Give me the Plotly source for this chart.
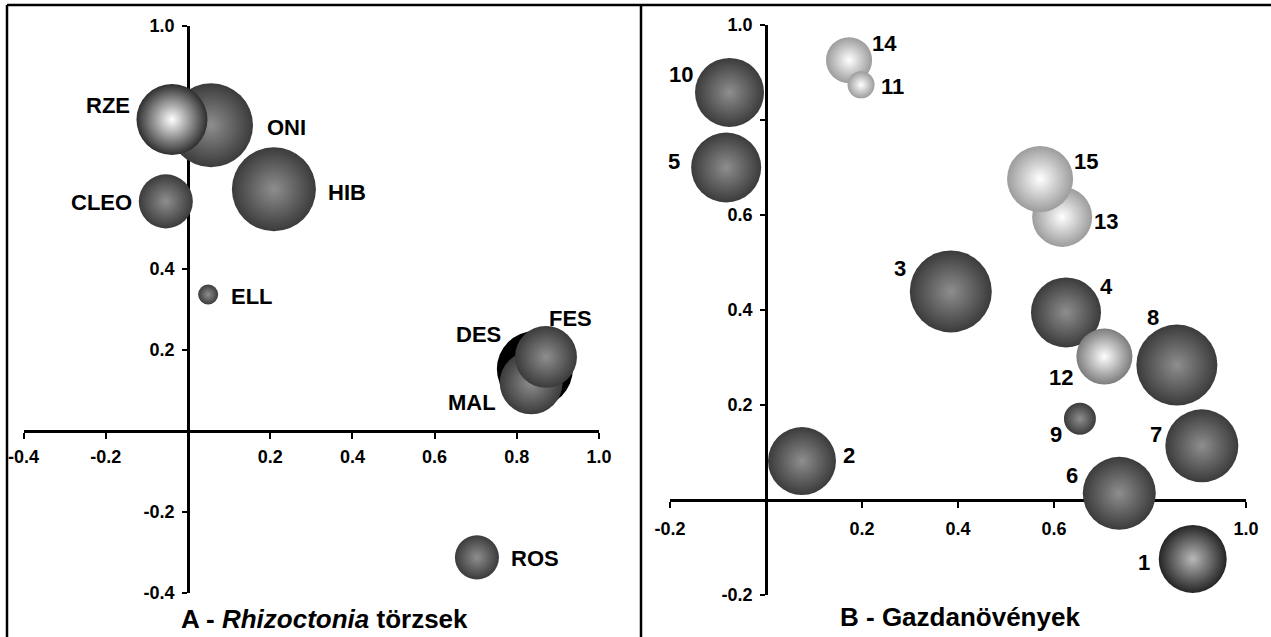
import plotly.graph_objects as go

# ---------------- data ----------------
# Panel A: Rhizoctonia strains (drawing order = stacking order)
strain_names = ["DES", "MAL", "FES", "ONI", "RZE", "HIB", "CLEO", "ELL", "ROS"]
strain_x = [0.844, 0.835, 0.871, 0.056, -0.039, 0.209, -0.054, 0.049, 0.703]
strain_y = [0.153, 0.119, 0.183, 0.755, 0.769, 0.597, 0.567, 0.337, -0.312]
strain_size = [57.8, 39.7, 38.4, 70.6, 50.4, 70.6, 29.2, 4.0, 19.4]

# Panel B: host plants (drawing order = stacking order)
host_names = ["1", "2", "3", "4", "12", "5", "6", "7", "8", "9", "10", "14", "11", "13", "15"]
host_x = [0.889, 0.075, 0.385, 0.625, 0.705, -0.083, 0.736, 0.908, 0.856, 0.654, -0.076, 0.173, 0.198, 0.617, 0.571]
host_y = [-0.124, 0.082, 0.439, 0.395, 0.302, 0.700, 0.014, 0.114, 0.284, 0.171, 0.858, 0.926, 0.874, 0.596, 0.676]
host_size = [46.2, 46.2, 67.2, 49.0, 31.4, 49.0, 53.3, 53.3, 65.6, 10.2, 47.6, 21.2, 7.3, 36.0, 43.6]

# axis ticks
a_xticks = [-0.4, -0.2, 0.2, 0.4, 0.6, 0.8, 1.0]
a_xticktext = ["-0.4", "-0.2", "0.2", "0.4", "0.6", "0.8", "1.0"]
a_yticks = [-0.4, -0.2, 0.2, 0.4, 0.6, 0.8, 1.0]
a_yticktext = ["-0.4", "-0.2", "0.2", "0.4", "", "", "1.0"]
b_xticks = [-0.2, 0.2, 0.4, 0.6, 0.8, 1.0]
b_xticktext = ["-0.2", "0.2", "0.4", "0.6", "", "1.0"]
b_yticks = [-0.2, 0.2, 0.4, 0.6, 0.8, 1.0]
b_yticktext = ["-0.2", "0.2", "0.4", "0.6", "", "1.0"]

title_a = "A - <i>Rhizoctonia</i> törzsek"
title_b = "B - Gazdanövények"

# ---------------- styles ----------------
W, H = 1271, 637
FONT = "Liberation Sans, Arial, sans-serif"

DARK = ("#3b3b3b", "#8e8e8e")      # (edge, centre)
style_a = {"DES": ("#000000", "#000000"), "RZE": ("#2e2e2e", "#ffffff")}
style_b = {"1": ("#252525", "#b8b8b8"), "12": ("#7c7c7c", "#ffffff"),
           "14": ("#9c9c9c", "#ffffff"), "11": ("#9c9c9c", "#ffffff"),
           "13": ("#9c9c9c", "#ffffff"), "15": ("#9c9c9c", "#ffffff")}

# label offsets in screen pixels (dx right, dy down) relative to bubble centre
off_a = {"RZE": (-64, -14), "ONI": (75, 2), "HIB": (73, 3), "CLEO": (-64.5, 1),
         "ELL": (43.5, 2), "DES": (-56, -35), "FES": (24.5, -38), "MAL": (-59, 20),
         "ROS": (58.5, 1)}
off_b = {"1": (-48.5, 4), "2": (47, -6), "3": (-51, -22.5), "4": (40.5, -25.5),
         "12": (-43, 20.5), "5": (-52, -6.5), "6": (-47, -17.5), "7": (-45.5, -11),
         "8": (-24, -48), "9": (-24, 16), "10": (-49, -17.5), "14": (35.5, -17),
         "11": (31, 2), "13": (43.5, 5), "15": (46, -17)}

# pixel frames of the two plot areas (left, right, top, bottom)
frame_a = (23.6, 599.0, 26.0, 593.0)
frame_b = (670.0, 1246.0, 25.0, 595.0)
rng_a = ([-0.4, 1.0], [-0.4, 1.0])
rng_b = ([-0.2, 1.0], [-0.2, 1.0])

SIZEREF = 0.02  # area mode: diameter = 10*sqrt(size)


def domains(frame):
    l, r, t, b = frame
    return [l / W, r / W], [1 - b / H, 1 - t / H]


def zero_pos(dom, rng):
    return dom[0] + (0 - rng[0]) / (rng[1] - rng[0]) * (dom[1] - dom[0])


fig = go.Figure()


def add_panel(names, xs, ys, sizes, styles, offs, xa, ya):
    edge = [styles.get(n, DARK)[0] for n in names]
    centre = [styles.get(n, DARK)[1] for n in names]
    fig.add_trace(go.Scatter(
        x=xs, y=ys, mode="markers", xaxis=xa, yaxis=ya,
        cliponaxis=False, hoverinfo="text", text=names,
        marker=dict(size=sizes, sizemode="area", sizeref=SIZEREF,
                    color=edge, opacity=1,
                    gradient=dict(type="radial", color=centre),
                    line=dict(width=0)),
    ))
    for n, x, y in zip(names, xs, ys):
        dx, dy = offs[n]
        fig.add_annotation(x=x, y=y, xref=xa, yref=ya, text="<b>%s</b>" % n,
                           showarrow=False, xshift=dx, yshift=-dy,
                           xanchor="center", yanchor="middle",
                           font=dict(family=FONT, size=22, color="black"))


add_panel(strain_names, strain_x, strain_y, strain_size, style_a, off_a, "x", "y")
add_panel(host_names, host_x, host_y, host_size, style_b, off_b, "x2", "y2")

xd_a, yd_a = domains(frame_a)
xd_b, yd_b = domains(frame_b)

tickfont = dict(family=FONT, size=18, color="black", weight="bold")
common = dict(showgrid=False, zeroline=False, showline=True, linecolor="black",
              linewidth=2.5, ticks="outside", ticklen=6, tickwidth=2,
              tickcolor="black", tickfont=tickfont, tickmode="array",
              layer="below traces", anchor="free", fixedrange=True,
              automargin=False)

fig.update_layout(
    width=W, height=H, margin=dict(l=0, r=0, t=0, b=0, autoexpand=False),
    paper_bgcolor="white", plot_bgcolor="white", showlegend=False,
    xaxis=dict(common, domain=xd_a, range=rng_a[0], tickvals=a_xticks,
               ticktext=a_xticktext, position=zero_pos(yd_a, rng_a[1]),
               ticklabelstandoff=3),
    yaxis=dict(common, domain=yd_a, range=rng_a[1], tickvals=a_yticks,
               ticktext=a_yticktext, position=zero_pos(xd_a, rng_a[0]),
               ticklen=5, ticklabelstandoff=4),
    xaxis2=dict(common, domain=xd_b, range=rng_b[0], tickvals=b_xticks,
                ticktext=b_xticktext, position=zero_pos(yd_b, rng_b[1]),
                ticklabelstandoff=6),
    yaxis2=dict(common, domain=yd_b, range=rng_b[1], tickvals=b_yticks,
                ticktext=b_yticktext, position=zero_pos(xd_b, rng_b[0]),
                ticklen=5, ticklabelstandoff=4),
)

# panel titles
fig.add_annotation(x=324 / W, y=1 - 619 / H, xref="paper", yref="paper",
                   text="<b>%s</b>" % title_a, showarrow=False,
                   xanchor="center", yanchor="middle",
                   font=dict(family=FONT, size=26, color="black"))
fig.add_annotation(x=959.5 / W, y=1 - 617 / H, xref="paper", yref="paper",
                   text="<b>%s</b>" % title_b, showarrow=False,
                   xanchor="center", yanchor="middle",
                   font=dict(family=FONT, size=26, color="black"))

# table borders
border = dict(color="black", width=2.5)
fig.add_shape(type="line", xref="paper", yref="paper", x0=7 / W, x1=1, y0=1 - 5 / H, y1=1 - 5 / H, line=border)
fig.add_shape(type="line", xref="paper", yref="paper", x0=7 / W, x1=7 / W, y0=0, y1=1 - 5 / H, line=border)
fig.add_shape(type="line", xref="paper", yref="paper", x0=641 / W, x1=641 / W, y0=0, y1=1 - 5 / H, line=border)

fig.write_html("out.html", config={"displayModeBar": False},
               post_script="document.body.style.margin='0';")
